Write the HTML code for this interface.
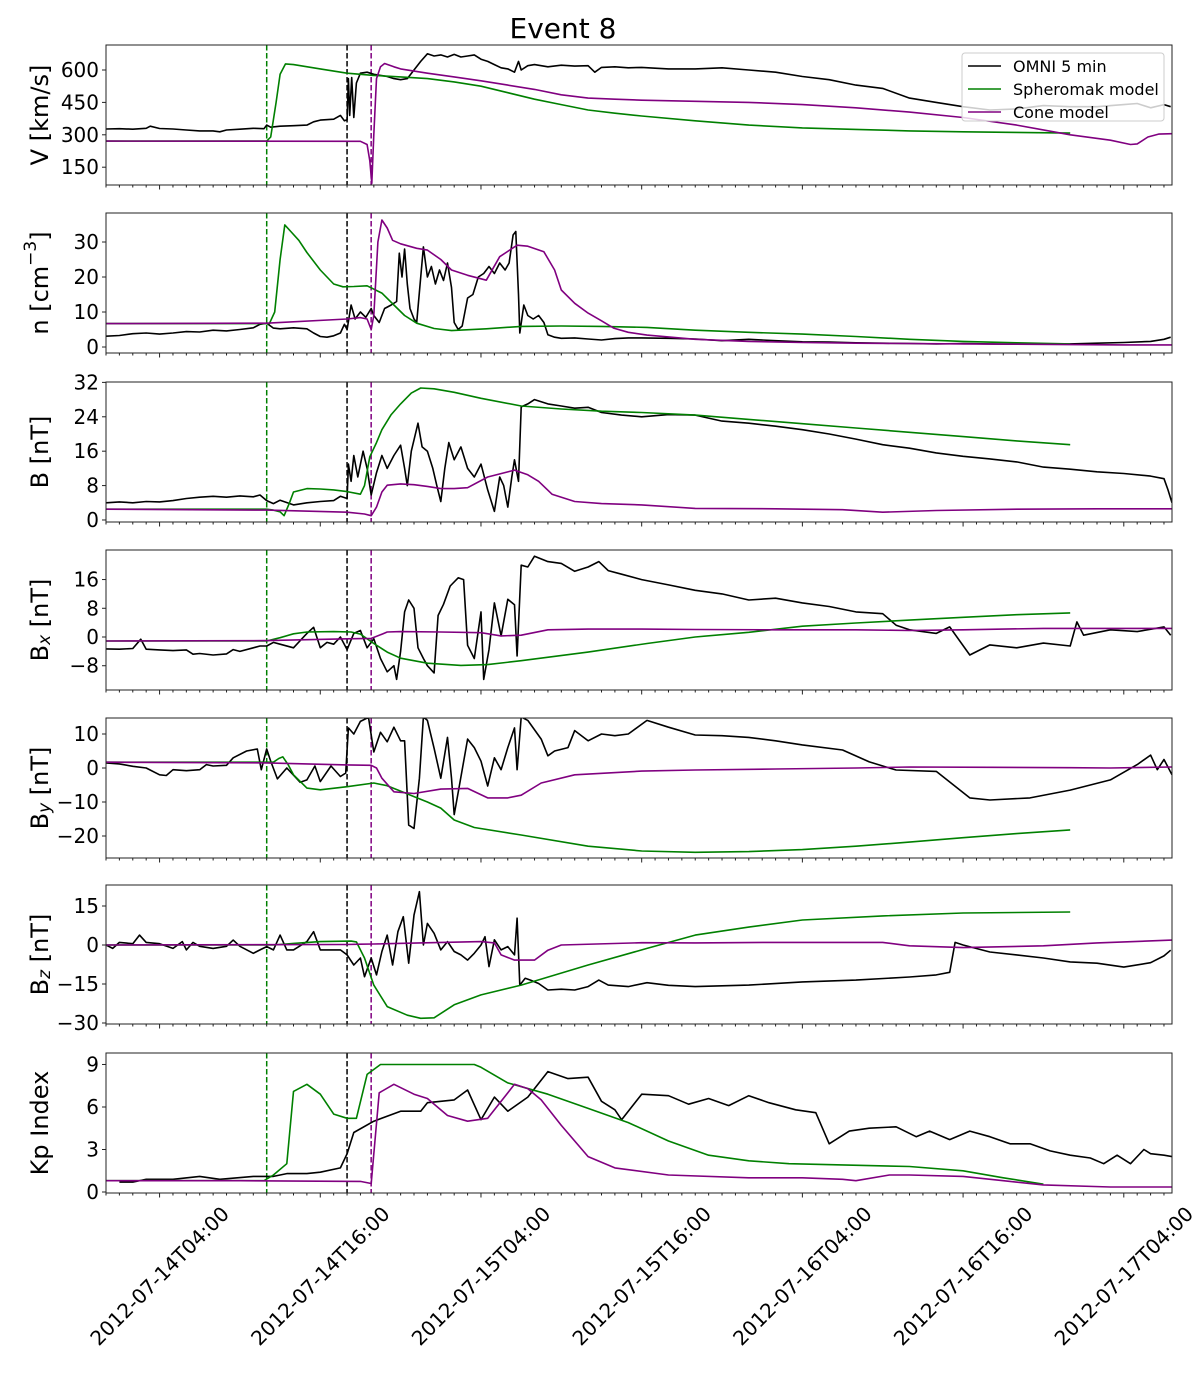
<!DOCTYPE html>
<html><head><meta charset="utf-8"><title>Event 8</title>
<style>
html,body{margin:0;padding:0;background:#fff;}
svg{display:block;font-family:"DejaVu Sans","Liberation Sans",sans-serif;}
</style></head>
<body>
<svg id="fig" width="1200" height="1384" viewBox="0 0 1200 1384" xmlns="http://www.w3.org/2000/svg">
<text x="563" y="38" font-size="28" text-anchor="middle" fill="#000">Event 8</text>
</svg>
<script>
// ---------- Data (hours since 2012-07-14T00:00) ----------
const xTickLabels = ["2012-07-14T04:00","2012-07-14T16:00","2012-07-15T04:00","2012-07-15T16:00","2012-07-16T04:00","2012-07-16T16:00","2012-07-17T04:00"];
const xTickHours = [4,16,28,40,52,64,76];
const shockHours = [12, 18, 19.8]; // spheromak arrival, observed, cone arrival

const vOmniT=[0,1,2,3,3.3,4,5,6,7,8,8.5,9,10,11,11.8,12,12.3,13,14,15,15.5,16,17,17.5,17.8,18,18.1,18.2,18.35,18.5,18.7,19,19.5,20,20.5,21,21.5,22,22.5,23,23.5,24,24.5,25,25.5,26,26.5,27,27.5,28,28.5,29,29.5,30,30.5,30.8,31,31.5,32,33,34,35,36,36.5,37,38,39,40,42,44,46,48,50,52,54,56,58,60,62,64,66,68,70,72,74,76,77,78,79,79.5];
const vOmni=[327,328,326,330,340,329,327,322,318,318,314,322,326,330,328,345,335,340,342,345,360,368,372,390,365,370,560,390,565,380,540,585,590,580,575,570,560,555,560,600,640,675,665,670,660,672,660,665,670,650,640,625,610,605,590,640,600,620,625,615,622,618,620,590,612,615,610,612,605,605,610,600,590,570,555,530,515,470,450,430,415,420,435,430,430,440,445,425,440,430];
const vSphT=[0,12,12.3,12.7,13,13.4,14,16,18,20,22,24,26,28,30,32,34,36,38,40,44,48,52,56,60,64,68,72];
const vSph=[271,271,290,450,580,628,625,605,585,575,568,560,545,525,495,465,440,415,400,387,365,345,332,325,318,314,311,308];
const vConeT=[0,19,19.5,19.7,19.85,20,20.2,20.5,20.8,21.5,22,24,26,28,30,32,34,36,38,40,44,48,52,56,60,64,68,72,75,76.5,77,77.8,78.6,79.6];
const vCone=[271,270,255,180,75,300,560,615,630,615,605,585,568,550,530,510,485,470,465,460,455,450,440,425,405,380,345,300,275,255,258,290,303,305];

const nOmniT=[0,1,2,3,4,5,6,7,8,9,10,11,11.5,12,12.5,13,14,15,15.5,16,16.5,17,17.5,17.8,18,18.3,18.6,19,19.4,19.8,20,20.4,20.8,21.3,21.7,21.9,22.1,22.3,22.5,22.7,23,23.2,23.7,24,24.3,24.6,24.9,25.2,25.5,25.8,26,26.3,26.6,27,27.4,27.8,28.2,28.6,29,29.4,29.8,30.1,30.4,30.6,30.8,30.9,31.2,31.5,31.9,32.3,32.7,33,33.5,34,35,36,37,38,39,40,42,44,46,48,50,52,54,56,58,60,62,64,66,68,70,72,74,76,78,79,79.5];
const nOmni=[3.1,3.3,3.8,4,3.7,4,4.4,4.3,4.8,4.6,5,5.5,6.5,6.8,5.4,5.2,5.5,5.2,4,3,2.8,3.2,4,6.5,5,12,8,10,8.5,11,9,7,11,12,13,26.8,20,28,18,11,8,7,28.6,20,23,18,22,19,24,17,7,5,6,14,15,20,21,23,21,24,22,24,32,33,15,4,12,9,8,9,7,3.5,2.8,2.5,2.6,2.3,2.0,2.4,2.6,2.6,2.5,2.3,1.8,2.2,1.8,1.5,1.4,1.2,1.1,1.0,0.9,1.0,0.9,0.8,0.8,0.9,1.1,1.3,1.6,2.2,2.8];
const nSphT=[0,12.2,12.6,13,13.35,13.8,14.4,15,16,17,17.7,18.5,19.5,20.6,21.5,22.3,23.2,24.5,25.8,28.4,31,34,37,40.4,44,48,52,56,60,64,68,72];
const nSph=[6.7,6.7,10,25,34.9,33,30.5,27,22,18,17.2,17.3,17.5,15.4,12,9,6.8,5.3,4.7,5.2,5.9,6,5.9,5.6,4.8,4.2,3.7,3.0,2.2,1.6,1.2,0.9];
const nConeT=[0,12,18,19,19.5,19.8,20,20.3,20.6,21,21.4,22,23.2,24,25,25.8,27,28.4,29.4,30.7,31.5,32.7,33.5,34,35,36,37,37.9,39,40.4,44,48,52,56,60,64,68,72,76,79.6];
const nCone=[6.7,6.8,8,8.4,8,5,9,30,36.3,34,30.5,29.5,28.2,27.7,25,22,20.5,19.1,25.8,29.1,28.8,27.2,22,16.3,12.5,9.7,7.5,5.4,4.2,3.4,2.2,1.6,1.3,1.1,1.0,0.9,0.8,0.7,0.6,0.6];

const bOmniT=[0,1,2,3,4,5,6,7,8,9,10,11,11.5,12,12.5,13,14,15,16,17,17.5,18,18.1,18.3,18.5,18.8,19.2,19.5,19.8,20.2,20.6,21,21.5,22,22.3,22.5,22.8,23.3,23.6,24,24.4,24.7,25,25.3,25.6,26,26.5,27,27.5,28,28.5,29,29.4,29.7,30,30.3,30.5,30.8,31,31.5,32,33,34,35,36,37,38.5,40,42,44,46,48,50,52,54,56,58,60,62,64,66,68,70,72,74,76,78,79,79.3,79.6];
const bOmni=[4,4.2,4,4.3,4.2,4.5,5,5.3,5.5,5.3,5.6,5.4,5.8,4.5,3.8,4.6,3.5,4,4.3,4.5,5.5,5,13,9,15,10,16,12,5.8,11,15,12,15,17.4,12,8,16,22.5,17,16,12,8,4.3,12,18,14,17,12,10,13,7,2,10,8,3,10,14,9,26.3,27,28,27,26.5,26,26.2,25,24.4,24,24.5,24.4,23,22.5,21.8,21,20,18.8,17.5,16.7,15.6,14.8,14.2,13.5,12.3,11.8,11.2,10.8,10.2,9.6,7,4];
const bSphT=[0,12,12.5,13,13.3,13.7,14,15,16,17,18,19,19.3,19.7,20.2,20.6,21.3,22,22.8,23.5,24.5,26,28,31,34,37,40,44,48,52,56,60,64,68,72];
const bSph=[2.5,2.5,2.3,1.9,1.0,4,6.5,7.3,7.2,7.0,6.6,6.0,8,14.7,18,21,24.5,27,29.5,30.7,30.5,29.7,28.3,26.5,25.8,25.3,25,24.4,23.4,22.4,21.4,20.4,19.4,18.4,17.5];
const bConeT=[0,12,18,19.3,19.8,20.2,20.6,21,22,23,24,25,26,27,28.5,30.5,31.5,32.3,33.3,35,37,40,44,50,55,58,62,68,74,79.6];
const bCone=[2.5,2.3,1.8,1.4,1.0,3,6.5,8.1,8.4,8.2,7.8,7.3,7.3,7.5,10,11.6,10.5,9,6,4.3,3.8,3.5,2.7,2.6,2.4,1.8,2.2,2.5,2.6,2.6];

const bxOmniT=[0,1,2,2.6,3,4,5,6,6.5,7,8,9,9.5,10,11,11.5,12,12.5,13,14,15,15.5,16,16.5,17,17.5,18,18.5,19,19.5,20,20.5,21,21.5,21.7,22,22.3,22.6,23,23.3,23.7,24,24.5,24.8,25.2,25.7,26.3,26.7,27,27.5,28,28.2,28.6,29,29.5,30,30.5,30.7,31,31.5,32,33,34,35,36,36.8,37.5,38.5,40,42,44,46,48,50,52,54,56,58,59,60,62,63,64.5,66,68,70,72,72.5,73,75,77,79,79.5];
const bxOmni=[-3.3,-3.4,-3.2,-0.6,-3.4,-3.6,-3.8,-3.6,-4.8,-4.6,-5,-4.7,-3.5,-4,-3,-2.5,-2.5,-1.5,-2,-3,1,2.7,-3,-1.5,-2,0,-3.5,1,1.8,-3,-0.5,-6,-9.7,-8,-11.8,-4,7,10.3,8,-3,-6,-8,-10,6,9.1,14.2,16.5,16,-2.3,-6,7,-11.8,-3.5,9.5,0.3,10.5,9,-5.3,20,19.5,22.5,21,20.5,18.3,19.5,21,18.5,17.5,16,14.5,13,12,10.3,10.8,9.5,8.5,7,6.5,3.3,2,1,2.8,-5,-2.2,-3,-1.7,-2.5,4.2,0.5,2,1.5,2.8,0.5];
const bxSphT=[0,12,13,14,15,17,18.3,19,20,21,22,24,26.5,28.5,31,36,40.4,44,48,52,56,60,64,68,72];
const bxSph=[-1.1,-1.1,-0.2,0.9,1.4,1.5,1.4,0.8,-1.8,-4.2,-5.9,-7.3,-7.9,-7.7,-6.6,-4.2,-1.8,0,1.3,3,3.9,4.7,5.5,6.2,6.7];
const bxConeT=[0,12,18,19.8,20.5,21,22,25,28,29.5,31,33,36,40,44,50,56,60,64,70,75,79.6];
const bxCone=[-1.1,-1.0,-0.5,-0.4,0.6,1.4,1.5,1.4,1.2,0.3,0.5,2,2.2,2.2,2.1,2.0,2.0,1.8,2.0,2.4,2.4,2.4];

const byOmniT=[0,1,2,3,4,4.5,5,6,7,7.5,8,9,9.5,10.5,11.3,11.6,12,12.3,12.8,13.5,14.5,15,15.6,16,16.8,17.5,17.9,18.1,18.5,19,19.6,20,20.5,21,21.5,22,22.3,22.6,23,23.4,23.7,24,24.5,25,25.5,25.8,26,26.4,27,27.5,28,28.5,29,29.5,30,30.5,30.7,31,31.5,32.5,33,33.5,34.5,35,36,37,38,39,40.4,42,44,46,48,50,52,55,57,59,62,64.5,66,69,72,75,77,78,78.5,79,79.6];
const byOmni=[1.5,1.2,0.5,0,-2,-2.2,-0.5,-0.8,-0.5,1,0.6,0.8,3,5,5.6,-0.5,5.6,2,-3.2,0,-4.2,-3.5,0.6,-4,0.6,-2.5,-1.5,11.8,10,13.7,14.9,4.7,10.5,7.7,12,8,8,-16.8,-17.8,-3,15,14,5.8,-3,9,-3,-13.7,-5,8.5,6,2,-5.3,3,-0.5,6,11.8,-0.5,15,14,8.5,3.6,5,6,11,8,10,9.5,10,14,12,9.7,9.5,9,8,6.8,5.3,1.8,-0.6,-1,-8.8,-9.4,-8.8,-6.5,-3.5,1,3.8,-0.5,2.5,-2];
const bySphT=[0,12.5,12.9,13.2,13.6,14,15,16,18,20,21,22,23,24,25,26,27.5,31,36,40,44,48,52,56,60,64,68,72];
const bySph=[1.7,1.7,2.8,3.3,1,-2,-5.9,-6.4,-5.5,-4.4,-5.2,-6.8,-8.4,-10,-11.8,-15.3,-17.5,-19.7,-23,-24.4,-24.8,-24.6,-24,-23,-21.8,-20.5,-19.3,-18.2];
const byConeT=[0,12,18,19.8,20.2,20.6,21.5,23,25,27,28.5,30,31,32.5,35,40,44,50,56,60,66,72,75,79.6];
const byCone=[1.7,1.5,0.9,0.8,0,-3,-7,-7.5,-6.2,-6,-8.8,-8.8,-8,-4.4,-2,-0.9,-0.6,-0.3,0,0.3,0.2,0.1,0,0.3];

const bzOmniT=[0,0.5,1,2,2.5,3,4,5,5.7,6,6.5,7,8,9,9.5,10,11,11.5,12,12.5,13,13.5,14,15,15.5,16,17,17.5,18,18.5,19,19.3,19.8,20.2,20.6,21,21.4,21.8,22.2,22.6,23,23.4,23.7,24,24.5,25,25.5,26,26.5,27,27.5,28,28.3,28.6,29,29.5,30,30.5,30.7,30.9,31.3,31.7,32.3,33,34,35,36,36.8,37.5,39,40.4,42,44,48,52,56,60,62,63,63.4,64,66,68,70,72,74,76,78,79,79.5];
const bzOmni=[0,-1.3,1,0.5,3.8,1,0.5,-1.3,1.3,-1.9,1,-0.5,-1.3,-0.5,1.9,-0.5,-3.2,-1.9,-0.6,-1.9,3.8,-1.9,-1.9,1.3,5.1,-1.9,-1.9,-1.9,-3.8,-7.7,-5,-12.2,-5,-11.5,-2.5,3.8,-7.7,5.1,10.9,-7,11.5,20.5,0,8.3,4.5,-1.9,1.3,-2.5,-3.8,-5.8,-3.2,0,3.2,-8.3,2,-1.9,-0.6,-3.8,10.3,-15.4,-12.8,-13.5,-14.8,-17.3,-17,-17.3,-16,-13.5,-15.4,-16,-14.5,-15.5,-16,-15.4,-14.2,-13.5,-12.3,-11.5,-10.5,1,0,-2.7,-3.8,-5,-6.5,-7,-8.5,-6.8,-4.2,-2];
const bzSphT=[0,12.5,14,16,18.3,18.7,19.3,20,21,22.5,23.5,24.5,26,28,31,36,40.4,44,48,52,58,64,72];
const bzSph=[0,0,0.6,1.3,1.5,1.2,-5,-15.4,-23.7,-27,-28.2,-28,-23,-19.2,-15.4,-7.7,-1.3,3.8,6.9,9.6,11.2,12.3,12.7];
const bzConeT=[0,18,19,20,28,29,29.5,30.5,32,33,34,40,44,50,58,60,64,70,74,79.6];
const bzCone=[0,0.2,0.3,0.4,1.3,0.8,-3.8,-5.8,-5.8,-2,0,0.9,0.8,1,1,-0.3,-1,-0.3,0.8,1.9];

const kpOmniT=[1,2,3,5,7,8.5,11,12.5,13.5,15,16,17.5,18,18.5,20,22,23.5,24,26,27,28,29,30,31.5,33,34.5,36,37,38,38.5,40,42,43.5,45,46.5,48,49.5,51.5,53,54,55.5,57,59,60.5,61.5,63,64.5,66,67.5,69,70.5,72,73.5,74.5,75.5,76.5,77.5,78,79,79.6];
const kpOmni=[0.7,0.7,0.9,0.9,1.1,0.9,1.1,1.1,1.3,1.3,1.4,1.7,2.7,4.2,5,5.7,5.7,6.3,6.5,7.2,5.1,6.7,5.7,6.7,8.5,8,8.1,6.4,5.8,5.1,6.9,6.8,6.2,6.6,6.1,6.8,6.3,5.8,5.6,3.4,4.3,4.5,4.6,3.9,4.3,3.7,4.3,3.9,3.4,3.4,2.9,2.6,2.4,2.0,2.6,2.0,3.0,2.7,2.6,2.5];
const kpSphT=[0,11.8,12.5,13.5,14,15,16,17,18,18.7,19.5,20.5,27.5,28,30,33,36,39,42,45,48,51,60,64,67,70];
const kpSph=[0.8,0.8,1.2,2,7.1,7.6,6.9,5.5,5.2,5.2,8.3,9,9,8.8,7.7,6.9,5.9,4.9,3.6,2.6,2.2,2,1.8,1.5,1.0,0.55];
const kpConeT=[0,10,19,19.8,20.4,21.5,23,24,25.5,27,28.5,30.5,31.5,32.5,34,36,38,42,48,52,55,56,58.5,60,64,67,70,75,79.6];
const kpCone=[0.8,0.8,0.75,0.6,7.0,7.6,6.9,6.6,5.4,5.0,5.2,7.6,7.3,6.5,4.7,2.5,1.7,1.2,1.0,1.0,0.9,0.8,1.2,1.2,1.1,0.8,0.5,0.35,0.35];

const vTicks=[150,300,450,600];
const nTicks=[0,10,20,30];
const bTicks=[0,8,16,24,32];
const bxTicks=[-8,0,8,16];
const byTicks=[-20,-10,0,10];
const bzTicks=[-30,-15,0,15];
const kpTicks=[0,3,6,9];

// ---------- Layout ----------
const NS="http://www.w3.org/2000/svg";
const svg=document.getElementById('fig');
const X0=106, X1=1172, H0=0, H1=79.6;
function xs(h){return X0+(h-H0)/(H1-H0)*(X1-X0);}

const panels=[
 {key:'v',top:45,bot:185,min:67.6,max:715.7,ticks:vTicks,series:[[vOmniT,vOmni],[vSphT,vSph],[vConeT,vCone]]},
 {key:'n',top:213,bot:353,min:-1.71,max:38.29,ticks:nTicks,series:[[nOmniT,nOmni],[nSphT,nSph],[nConeT,nCone]]},
 {key:'b',top:382,bot:522,min:-0.47,max:32.09,ticks:bTicks,series:[[bOmniT,bOmni],[bSphT,bSph],[bConeT,bCone]]},
 {key:'bx',top:550,bot:690,min:-14.76,max:24.23,ticks:bxTicks,series:[[bxOmniT,bxOmni],[bxSphT,bxSph],[bxConeT,bxCone]]},
 {key:'by',top:718,bot:858,min:-26.47,max:14.71,ticks:byTicks,series:[[byOmniT,byOmni],[bySphT,bySph],[byConeT,byCone]]},
 {key:'bz',top:885,bot:1024,min:-30.38,max:23.08,ticks:bzTicks,series:[[bzOmniT,bzOmni],[bzSphT,bzSph],[bzConeT,bzCone]]},
 {key:'kp',top:1053,bot:1193,min:-0.07,max:9.81,ticks:kpTicks,series:[[kpOmniT,kpOmni],[kpSphT,kpSph],[kpConeT,kpCone]]}
];
const colors=['#000000','#008000','#800080'];
const seriesNames=['omni','spheromak','cone'];

function mk(tag,attrs,parent){const e=document.createElementNS(NS,tag);for(const k in attrs)e.setAttribute(k,attrs[k]);(parent||svg).appendChild(e);return e;}

const defs=mk('defs',{});
panels.forEach((p,i)=>{
  const ys=v=>p.bot-(v-p.min)/(p.max-p.min)*(p.bot-p.top);
  const g=mk('g',{});
  
  
  const cp=mk('clipPath',{id:'clip'+i},defs);
  mk('rect',{x:X0,y:p.top,width:X1-X0,height:p.bot-p.top},cp);
  shockHours.forEach((h,j)=>{
    const l=mk('line',{x1:xs(h),x2:xs(h),y1:p.top,y2:p.bot,stroke:['#008000','#000000','#800080'][j],'stroke-width':1.5,'stroke-dasharray':'5.5,2.5'},g);
    
    
  });
  p.series.forEach((s,j)=>{
    const [T,V]=s;
    let d='';
    for(let k=0;k<T.length;k++){d+=(k?'L':'M')+xs(T[k]).toFixed(1)+','+ys(V[k]).toFixed(1);}
    const path=mk('path',{d:d,fill:'none',stroke:colors[j],'stroke-width':1.6,'stroke-linejoin':'round','clip-path':'url(#clip'+i+')'},g);
    
    
  });
  const fr=mk('rect',{x:X0,y:p.top,width:X1-X0,height:p.bot-p.top,fill:'none',stroke:'#222','stroke-width':1},g);
  
  
  p.ticks.forEach(t=>{
    const y=ys(t);
    mk('line',{x1:X0-4,x2:X0,y1:y,y2:y,stroke:'#222','stroke-width':1},g);
    const tx=mk('text',{x:X0-7,y:y+7,'font-size':20,'text-anchor':'end',fill:'#000'},g);
    tx.textContent=(t<0?'\u2212'+Math.abs(t):String(t));
    
    
  });
  for(let h=0;h<=79;h++){
    const major=((h-4)%12===0);
    mk('line',{x1:xs(h),x2:xs(h),y1:p.bot,y2:p.bot+(major?4.5:2.5),stroke:'#222','stroke-width':1},g);
  }
  const cy=(p.top+p.bot)/2, cx=40;
  const yl=mk('text',{x:0,y:0,'font-size':24,'text-anchor':'middle',fill:'#000',transform:'translate('+cx+','+cy+') rotate(-90)','dominant-baseline':'central'},g);
  
  
  if(p.key==='v'){yl.textContent='V [km/s]';}
  else if(p.key==='n'){yl.innerHTML='n [cm<tspan dy="-9" font-size="17">\u22123</tspan><tspan dy="9">]</tspan>';}
  else if(p.key==='b'){yl.textContent='B [nT]';}
  else if(p.key==='kp'){yl.textContent='Kp Index';}
  else {const sub=p.key[1];yl.innerHTML='B<tspan dy="5" font-size="17" font-style="italic">'+sub+'</tspan><tspan dy="-5"> [nT]</tspan>';}
});

xTickHours.forEach((h,i)=>{
  const t=mk('text',{x:0,y:0,'font-size':20,'text-anchor':'middle','dominant-baseline':'central',fill:'#000',transform:'translate('+xs(h).toFixed(1)+',1276) rotate(-45)'});
  t.textContent=xTickLabels[i];
  
  
});

const lg=mk('g',{});


mk('rect',{x:962,y:53,width:202,height:68,rx:3,fill:'#fff','fill-opacity':0.8,stroke:'#ccc','stroke-width':1},lg);
['OMNI 5 min','Spheromak model','Cone model'].forEach((s,i)=>{
  const y=66+i*23;
  const ln=mk('line',{x1:968,x2:1001,y1:y,y2:y,stroke:colors[i],'stroke-width':1.6},lg);
  
  
  const t=mk('text',{x:1013,y:y+6,'font-size':16,fill:'#000'},lg);
  t.textContent=s;
  
  
});
</script>
</body></html>
